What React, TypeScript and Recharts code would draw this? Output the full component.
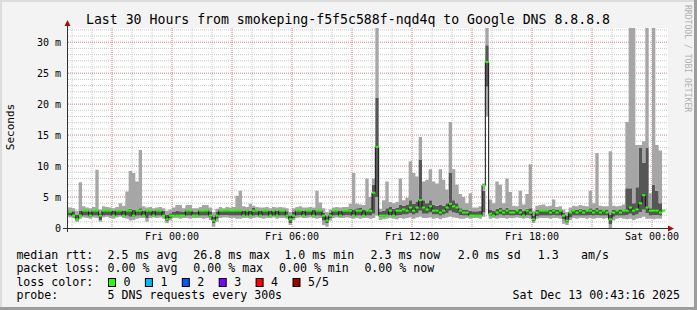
import { Area, CartesianGrid, ComposedChart, Line, Scatter, XAxis, YAxis } from 'recharts';

// 5 DNS requests every 300s, shown here as 10 minute slots (ms)
// one row = 3 hours, 18 slots; first slot starts Thu 18:40
const slotStart = -5 - 20 / 60; // hours relative to Fri 00:00
const slotHours = 1 / 6;

const medianRtt = [
  2.6, 2.6, 2.0, 1.4, 2.0, 2.8, 2.8, 2.0, 2.8, 2.8, 2.0, 2.8, 2.8, 2.8, 2.0, 2.8, 2.8, 2.0,
  2.8, 2.8, 2.0, 2.8, 2.8, 2.0, 2.8, 2.8, 2.0, 2.8, 2.8, 2.0, 1.4, 2.0, 2.0, 2.0, 2.0, 2.0,
  2.8, 2.8, 2.0, 2.0, 2.8, 2.8, 2.8, 2.0, 1.2, 2.0, 2.8, 2.8, 2.8, 2.8, 2.8, 2.8, 2.8, 2.0,
  2.8, 2.0, 2.8, 2.8, 2.0, 2.8, 2.8, 2.0, 2.8, 2.0, 2.8, 2.8, 2.0, 1.4, 2.0, 2.8, 2.8, 2.0,
  2.8, 2.8, 2.0, 2.8, 2.8, 2.0, 1.2, 2.0, 2.8, 2.8, 2.0, 2.8, 2.8, 2.8, 2.0, 2.8, 2.8, 2.0,
  2.8, 2.8, 5.7, 13.1, 2.0, 2.0, 2.0, 2.8, 2.0, 2.8, 2.8, 3.0, 2.8, 3.3, 2.8, 3.3, 4.5, 3.3,
  3.0, 3.5, 2.8, 2.8, 2.5, 2.8, 3.3, 3.9, 3.5, 3.3, 2.8, 2.5, 2.5, 2.0, 2.0, 2.0, 2.0, 6.9,
  26.8, 2.3, 2.0, 2.5, 2.8, 2.5, 2.8, 2.5, 2.5, 2.8, 2.5, 2.0, 2.8, 2.5, 1.4, 2.5, 2.8, 2.8,
  2.8, 2.5, 2.8, 2.5, 2.8, 2.0, 1.2, 2.5, 2.8, 2.5, 2.8, 2.5, 2.8, 2.8, 2.5, 2.8, 2.5, 2.8,
  2.5, 1.4, 2.5, 2.8, 2.5, 2.8, 2.8, 3.3, 2.8, 3.0, 4.0, 5.3, 3.3, 2.8, 2.8, 2.8, 2.5, 2.8,
];

const minRtt = [
  1.8, 1.7, 1.6, 1.0, 1.5, 1.7, 1.6, 1.5, 1.7, 1.6, 1.0, 1.7, 1.8, 1.6, 1.5, 1.7, 1.8, 1.6,
  1.5, 1.2, 1.3, 1.5, 1.6, 1.6, 1.0, 1.6, 1.7, 1.6, 1.7, 1.5, 0.8, 1.2, 1.6, 1.6, 1.5, 1.6,
  1.6, 1.5, 1.6, 1.6, 1.6, 1.5, 1.6, 1.3, 0.2, 1.0, 1.6, 1.7, 1.7, 1.6, 1.6, 1.5, 1.5, 1.6,
  1.6, 1.5, 1.6, 1.7, 1.6, 1.5, 1.6, 1.6, 1.7, 1.5, 1.6, 1.6, 1.5, 0.5, 1.3, 1.6, 1.7, 1.6,
  1.6, 1.7, 1.6, 1.5, 1.6, 0.5, 0.2, 1.2, 1.6, 1.7, 1.6, 1.6, 1.7, 1.6, 1.5, 1.6, 1.5, 1.6,
  1.6, 1.5, 1.6, 2.0, 1.3, 1.4, 1.5, 1.6, 1.5, 1.4, 1.6, 1.5, 1.6, 1.7, 1.5, 1.7, 1.8, 1.6,
  1.6, 1.7, 1.5, 1.6, 1.4, 1.6, 1.7, 1.8, 1.7, 1.6, 1.5, 1.5, 1.6, 1.5, 1.6, 1.6, 1.5, 1.8,
  18.0, 1.5, 1.6, 1.5, 1.6, 1.6, 1.5, 1.6, 1.6, 1.7, 1.6, 1.5, 1.6, 1.5, 0.8, 1.5, 1.6, 1.6,
  1.6, 1.5, 1.6, 1.6, 1.5, 0.7, 0.5, 1.3, 1.6, 1.5, 1.6, 1.6, 1.5, 1.6, 1.5, 1.6, 1.6, 1.5,
  1.6, 0.0, 1.2, 1.5, 1.6, 1.5, 1.4, 1.5, 1.3, 1.5, 1.6, 1.8, 1.5, 1.5, 1.4, 1.5, 1.5, 1.6,
];

const lowRtt = [
  2.1, 2.0, 1.9, 1.2, 1.9, 2.0, 2.0, 1.8, 2.0, 2.0, 1.3, 2.0, 2.1, 2.0, 1.9, 2.0, 2.1, 1.9,
  2.0, 1.8, 1.8, 2.0, 2.0, 2.0, 1.6, 2.0, 2.0, 2.0, 2.0, 1.9, 1.1, 1.6, 1.9, 1.9, 1.9, 1.9,
  2.0, 2.0, 1.9, 1.9, 2.0, 2.0, 2.0, 1.7, 0.8, 1.5, 2.1, 2.1, 2.1, 2.0, 2.0, 2.0, 2.0, 1.9,
  2.0, 1.9, 2.0, 2.1, 1.9, 2.0, 2.0, 1.9, 2.0, 1.9, 2.0, 2.0, 1.8, 0.8, 1.6, 2.0, 2.1, 1.9,
  2.0, 2.1, 2.0, 2.0, 2.0, 1.2, 0.8, 1.6, 2.0, 2.1, 1.9, 2.0, 2.1, 2.0, 1.9, 2.0, 2.0, 1.9,
  2.0, 2.0, 2.3, 5.0, 1.8, 1.8, 1.9, 2.1, 1.9, 2.0, 2.1, 2.2, 2.2, 2.4, 2.2, 2.4, 2.8, 2.3,
  2.3, 2.5, 2.2, 2.2, 2.0, 2.2, 2.4, 2.8, 2.5, 2.4, 2.1, 2.0, 2.0, 1.9, 1.9, 1.9, 1.9, 2.5,
  22.8, 2.0, 1.9, 2.0, 2.2, 2.0, 2.1, 2.0, 2.0, 2.1, 2.0, 1.9, 2.1, 2.0, 1.1, 1.9, 2.0, 2.0,
  2.0, 2.0, 2.1, 2.0, 2.0, 1.4, 0.9, 1.7, 2.0, 2.0, 2.0, 2.0, 2.0, 2.1, 2.0, 2.1, 2.0, 2.0,
  2.0, 0.6, 1.8, 2.0, 2.0, 2.0, 2.1, 2.3, 2.0, 2.2, 2.6, 3.0, 2.4, 2.0, 2.1, 2.1, 2.0, 2.0,
];

const highRtt = [
  2.9, 2.8, 2.7, 2.2, 2.8, 2.9, 2.8, 2.6, 2.9, 3.0, 2.4, 2.9, 3.0, 2.9, 2.8, 2.9, 3.0, 2.8,
  3.0, 3.1, 2.9, 3.0, 3.2, 2.8, 2.9, 2.9, 2.8, 2.9, 3.0, 2.8, 2.2, 2.4, 2.6, 2.8, 2.7, 2.6,
  2.9, 2.9, 2.6, 2.6, 2.9, 2.9, 3.0, 2.7, 1.8, 2.6, 2.9, 2.9, 3.0, 2.9, 2.9, 3.0, 3.0, 2.8,
  2.9, 2.8, 3.3, 3.0, 2.8, 2.9, 2.9, 2.8, 2.9, 2.8, 2.9, 2.9, 2.7, 2.0, 2.6, 2.9, 3.0, 2.8,
  2.9, 3.0, 2.9, 3.0, 3.0, 2.5, 1.9, 2.5, 2.9, 3.0, 2.8, 2.9, 3.0, 3.1, 3.0, 3.2, 3.3, 3.0,
  3.0, 3.2, 7.0, 21.0, 2.6, 2.8, 3.2, 3.4, 3.1, 3.3, 3.8, 3.6, 3.8, 4.5, 3.9, 4.2, 11.0, 4.5,
  4.0, 4.5, 3.8, 3.6, 3.8, 3.6, 4.0, 8.9, 4.5, 4.0, 3.2, 3.0, 3.0, 2.8, 2.7, 2.7, 2.8, 6.0,
  29.5, 3.0, 2.8, 3.1, 3.3, 3.0, 3.3, 3.0, 2.9, 3.0, 3.1, 2.8, 3.1, 3.2, 2.0, 2.9, 3.0, 3.0,
  3.0, 2.9, 3.1, 2.9, 3.0, 2.5, 2.0, 2.6, 3.0, 2.9, 3.1, 3.0, 3.0, 3.2, 3.0, 3.3, 3.0, 3.0,
  3.0, 2.2, 2.9, 3.0, 3.0, 3.0, 6.4, 6.4, 4.0, 6.6, 13.0, 10.5, 13.0, 3.2, 7.0, 6.0, 4.0, 3.1,
];

const maxRtt = [
  3.4, 3.3, 3.2, 2.8, 7.4, 3.5, 3.3, 3.2, 3.4, 9.4, 3.0, 3.5, 3.4, 3.3, 3.2, 3.4, 4.0, 3.6,
  5.9, 9.2, 8.9, 7.5, 12.6, 3.5, 3.3, 3.4, 3.2, 3.3, 3.4, 3.2, 2.8, 3.0, 3.3, 3.7, 3.7, 3.2,
  3.7, 3.7, 3.2, 3.2, 3.4, 3.7, 3.7, 3.3, 2.6, 3.1, 3.4, 3.2, 3.4, 3.3, 3.4, 5.2, 6.0, 3.5,
  3.4, 3.9, 3.6, 3.4, 3.3, 3.3, 3.4, 3.2, 3.4, 3.3, 3.4, 3.3, 3.2, 2.6, 3.2, 3.4, 3.5, 3.3,
  3.3, 3.4, 3.3, 6.0, 4.1, 3.2, 2.6, 3.0, 3.3, 3.4, 3.3, 3.4, 3.4, 3.9, 8.9, 3.9, 3.8, 3.7,
  8.0, 5.0, 8.0, 32.3, 3.1, 4.5, 7.5, 4.2, 4.0, 4.2, 8.0, 4.5, 4.9, 10.8, 8.9, 8.3, 14.7, 7.5,
  7.8, 9.5, 7.5, 7.2, 9.5, 7.8, 6.2, 17.1, 9.5, 7.0, 5.5, 5.0, 4.0, 5.6, 3.3, 3.3, 3.5, 7.2,
  32.3, 4.6, 4.0, 7.5, 7.0, 4.0, 8.0, 5.8, 3.6, 3.5, 6.0, 3.8, 5.5, 10.3, 2.8, 3.6, 3.7, 3.8,
  3.5, 3.6, 4.6, 3.4, 3.5, 3.0, 2.6, 3.3, 3.6, 3.5, 3.7, 3.6, 3.5, 6.0, 4.0, 12.1, 3.6, 3.5,
  3.5, 12.4, 3.6, 3.5, 3.6, 3.8, 17.1, 32.3, 32.3, 13.4, 13.4, 14.0, 32.3, 5.6, 32.3, 13.4, 12.5, 4.0,
];

const yTicks = [0, 5, 10, 15, 20, 25, 30];
const xTicks = [0, 6, 12, 18, 24];
const xTickLabels = ['Fri 00:00', 'Fri 06:00', 'Fri 12:00', 'Fri 18:00', 'Sat 00:00'];
const minorY = Array.from({ length: 32 }, (_, i) => i + 1);
const majorY = [5, 10, 15, 20, 25, 30];
const minorX = Array.from({ length: 30 }, (_, i) => i - 5);
const majorX = [-3, 0, 3, 6, 9, 12, 15, 18, 21, 24];

const rttStats = ['2.5 ms avg', '26.8 ms max', '1.0 ms min', '2.3 ms now', '2.0 ms sd', '1.3', 'am/s'];
const lossStats = ['0.00 % avg', '0.00 % max', '0.00 % min', '0.00 % now'];
const lossLabels = ['0', '1', '2', '3', '4', '5/5'];
const lossColors = ['#26ff00', '#00b8ff', '#0059ff', '#7e00ff', '#ff0000', '#a10000'];

const table = medianRtt.map((md, i) => ({
  t: slotStart + i * slotHours,
  base: minRtt[i],
  l1: lowRtt[i] - minRtt[i],
  d: highRtt[i] - lowRtt[i],
  l2: maxRtt[i] - highRtt[i],
  md,
}));

const mono = '"DejaVu Sans Mono", monospace';
const LIGHT = '#a6a6a6';
const DARK = '#565656';

// legend column positions, as rrdtool lays them out
const rttX = [107.6, 193.3, 284.4, 370.5, 457.8, 537.8, 581];
const lossX = [107.6, 193.3, 279, 364.4];

const MedianMark = (props: { cx?: number; cy?: number }) => {
  const cx = Number(props.cx ?? 0);
  const cy = Number(props.cy ?? 0);
  return <rect x={cx} y={cy - 1} width={3.4} height={2} fill={lossColors[0]} />;
};

export default function App() {
  return (
    <div style={{ position: 'absolute', left: 0, top: 0, width: 697, height: 310, background: '#f3f3f3', overflow: 'hidden' }}>
      <ComposedChart
        width={697}
        height={310}
        data={table}
        margin={{ top: 28, right: 29, bottom: 62, left: 0 }}
      >
        <CartesianGrid
          fill="#ffffff"
          stroke="#c8c8c8"
          strokeDasharray="1 1"
          horizontalValues={minorY}
          verticalValues={minorX}
        />
        <CartesianGrid
          stroke="#e39a9a"
          strokeDasharray="1 1"
          horizontalValues={majorY}
          verticalValues={majorX}
        />
        <XAxis
          dataKey="t"
          type="number"
          domain={[-5.2, 24.8]}
          allowDataOverflow
          ticks={xTicks}
          interval={0}
          tickFormatter={(v: number) => xTickLabels[xTicks.indexOf(v)] ?? ''}
          height={20}
          tickSize={0}
          tickMargin={5}
          axisLine={false}
          tick={{ fill: '#000', fontSize: 10, fontFamily: mono }}
        />
        <YAxis
          type="number"
          domain={[0, 32.3]}
          allowDataOverflow
          ticks={yTicks}
          interval={0}
          tickFormatter={(v: number) => (v === 0 ? '0' : `${v} m`)}
          width={68}
          tickSize={0}
          tickMargin={7}
          axisLine={false}
          tick={{ fill: '#000', fontSize: 10, fontFamily: mono }}
        />
        <Area type="stepAfter" dataKey="base" stackId="s" stroke="none" fill="none" isAnimationActive={false} />
        <Area type="stepAfter" dataKey="l1" stackId="s" stroke="none" fill={LIGHT} fillOpacity={1} isAnimationActive={false} />
        <Area type="stepAfter" dataKey="d" stackId="s" stroke="none" fill={DARK} fillOpacity={1} isAnimationActive={false} />
        <Area type="stepAfter" dataKey="l2" stackId="s" stroke="none" fill={LIGHT} fillOpacity={1} isAnimationActive={false} />
        <Line type="stepAfter" dataKey="md" stroke="#111" strokeWidth={1} dot={false} isAnimationActive={false} />
        <Scatter dataKey="md" shape={MedianMark} isAnimationActive={false} />
      </ComposedChart>

      <svg width={697} height={310} style={{ position: 'absolute', left: 0, top: 0, pointerEvents: 'none' }}>
        {/* frame */}
        <rect x={0} y={0} width={697} height={2} fill="#dcdcdc" />
        <rect x={0} y={0} width={2} height={310} fill="#dcdcdc" />
        <rect x={0} y={307} width={697} height={3} fill="#9c9c9c" />
        <rect x={694} y={0} width={3} height={310} fill="#9c9c9c" />

        <text x={348} y={24} textAnchor="middle" fontFamily={mono} fontSize={13.2} fill="#000">
          Last 30 Hours from smokeping-f5f5c588f-nqd4q to Google DNS 8.8.8.8
        </text>
        <text x={685} y={5} transform="rotate(90 685 5)" fontFamily={mono} fontSize={8.1} fill="#b0b0b0">
          RRDTOOL / TOBI OETIKER
        </text>
        <text x={13.5} y={127} transform="rotate(-90 13.5 127)" textAnchor="middle" fontFamily={mono} fontSize={11} fill="#000">
          Seconds
        </text>

        {/* axes */}
        <line x1={67.5} y1={232} x2={67.5} y2={25} stroke="#333" strokeWidth={1} />
        <polygon points="64.5,26 70.5,26 67.5,20" fill="#a01010" />
        <line x1={63} y1={228.5} x2={669} y2={228.5} stroke="#333" strokeWidth={1} />
        <polygon points="668,225.5 668,231.5 674,228.5" fill="#a01010" />

        <g fontFamily={mono} fontSize={11.6} fill="#000">
          <text x={16.4} y={258.5}>median rtt:</text>
          {rttStats.map((s, i) => (
            <text key={s} x={rttX[i]} y={258.5}>{s}</text>
          ))}
          <text x={16.4} y={272}>packet loss:</text>
          {lossStats.map((s, i) => (
            <text key={s} x={lossX[i]} y={272}>{s}</text>
          ))}
          <text x={16.4} y={285.5}>loss color:</text>
          {lossLabels.map((label, i) => (
            <g key={label}>
              <rect x={108.5 + i * 36.9} y={278.5} width={7} height={8} fill={lossColors[i]} stroke="#000" strokeWidth={1} />
              <text x={123.5 + i * 36.9} y={285.5}>{label}</text>
            </g>
          ))}
          <text x={16.4} y={299}>probe:</text>
          <text x={107.6} y={299}>5 DNS requests every 300s</text>
          <text x={680} y={299} textAnchor="end">Sat Dec 13 00:43:16 2025</text>
        </g>
      </svg>
    </div>
  );
}
